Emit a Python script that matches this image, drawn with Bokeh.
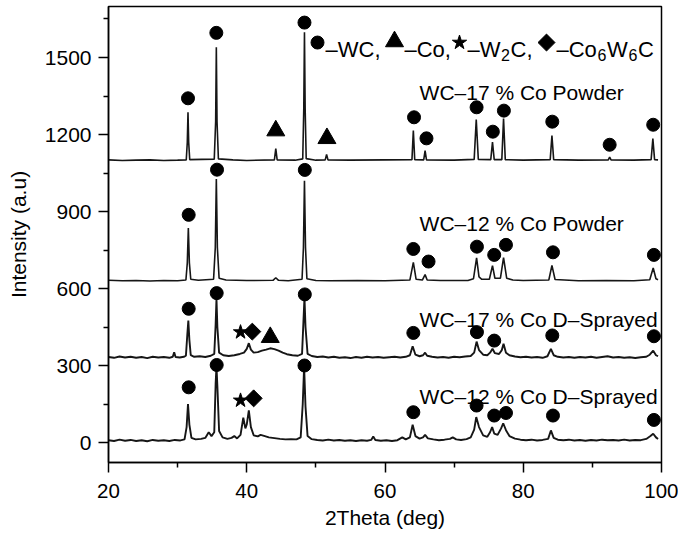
from bokeh.plotting import figure
from bokeh.models import Range1d, FixedTicker
from bokeh.core.properties import value
from bokeh.embed import file_html
from bokeh.resources import INLINE

FONT = "Liberation Sans"

# ---------------- data ----------------
x_ticks = [20, 40, 60, 80, 100]
x_minor = [30, 50, 70, 90]
y_ticks = [0, 300, 600, 900, 1200, 1500]
y_minor = [150, 450, 750, 1050, 1350, 1650]

# WC-17 % Co Powder
a_theta = [20.0, 22.0, 24.0, 26.0, 28.0, 30.0, 31.25, 31.4, 31.5, 31.6, 31.75, 35.3, 35.5, 35.6, 35.7,
           35.9, 38.0, 40.0, 44.0, 44.2, 44.4, 47.0, 48.1, 48.25, 48.35, 48.45, 48.6, 50.0, 51.35, 51.55,
           51.75, 55.0, 60.0, 63.9, 64.1, 64.3, 65.6, 65.8, 66.0, 70.0, 72.9, 73.2, 73.5, 75.3, 75.55,
           75.8, 76.9, 77.15, 77.4, 80.0, 83.9, 84.15, 84.4, 88.0, 92.3, 92.5, 92.7, 96.0, 98.5, 98.75,
           99.0, 99.5]
a_int = [1101, 1099, 1100, 1101, 1099, 1100, 1101, 1170, 1287, 1170, 1102, 1104, 1250, 1540, 1250,
         1105, 1101, 1099, 1101, 1145, 1101, 1100, 1105, 1300, 1598, 1300, 1106, 1100, 1101, 1122,
         1101, 1100, 1101, 1102, 1215, 1102, 1101, 1137, 1101, 1100, 1103, 1258, 1103, 1102, 1170,
         1102, 1102, 1262, 1102, 1100, 1102, 1196, 1102, 1100, 1101, 1112, 1101, 1100, 1102, 1184,
         1102, 1101]

# WC-12 % Co Powder
b_theta = [20.0, 22.0, 24.0, 26.0, 28.0, 30.0, 31.2, 31.4, 31.55, 31.7, 31.9, 33.0, 35.2, 35.45, 35.6,
           35.75, 36.0, 37.0, 40.0, 43.8, 44.2, 44.6, 46.0, 48.0, 48.2, 48.35, 48.5, 48.7, 50.0, 52.0,
           56.0, 60.0, 63.6, 64.1, 64.5, 65.4, 65.8, 66.1, 68.0, 72.0, 72.8, 73.25, 73.6, 74.0, 75.1,
           75.55, 75.9, 76.7, 77.15, 77.6, 78.5, 80.0, 83.7, 84.15, 84.6, 88.0, 92.0, 96.0, 98.3, 98.8,
           99.2, 99.5]
b_int = [632, 630, 631, 629, 631, 630, 633, 700, 836, 700, 636, 632, 636, 760, 1027,
         760, 640, 633, 631, 632, 642, 632, 630, 636, 760, 1020, 760, 638, 631, 630,
         631, 630, 633, 702, 636, 633, 654, 633, 631, 631, 638, 719, 645, 636, 636,
         689, 640, 640, 720, 640, 633, 631, 633, 690, 635, 630, 631, 630, 634, 680,
         638, 634]

# WC-17 % Co D-Sprayed
c_theta = [20.0, 20.8, 21.6, 22.4, 23.2, 24.0, 24.8, 25.6, 26.4, 27.2, 28.0, 28.8, 29.3, 29.5, 29.7,
           30.3, 30.9, 31.2, 31.4, 31.55, 31.7, 31.9, 32.4, 33.2, 34.0, 34.8, 35.3, 35.5, 35.62, 35.75,
           36.0, 36.6, 37.4, 38.2, 39.0, 39.6, 40.0, 40.3, 40.6, 41.0, 41.6, 42.2, 42.8, 43.4, 44.0,
           44.6, 45.2, 45.8, 46.6, 47.4, 48.0, 48.2, 48.35, 48.5, 48.8, 49.4, 50.2, 51.0, 51.8, 52.6,
           53.4, 54.2, 55.0, 55.8, 56.6, 57.4, 58.2, 59.0, 59.8, 60.6, 61.4, 62.2, 63.0, 63.6, 64.0,
           64.4, 65.0, 65.5, 65.8, 66.1, 66.8, 67.6, 68.4, 69.2, 70.0, 70.8, 71.6, 72.4, 72.9, 73.25,
           73.6, 74.2, 74.8, 75.2, 75.55, 75.9, 76.5, 76.9, 77.15, 77.5, 78.0, 78.8, 79.6, 80.4, 81.2,
           82.0, 82.8, 83.5, 84.0, 84.4, 85.0, 85.8, 86.6, 87.4, 88.2, 89.0, 89.8, 90.6, 91.4, 92.2,
           93.0, 93.8, 94.6, 95.4, 96.2, 97.0, 97.8, 98.3, 98.8, 99.2, 99.5]
c_int = [333, 330, 335, 331, 334, 330, 333, 329, 334, 331, 333, 330, 334, 352, 333,
         331, 334, 338, 420, 475, 400, 340, 334, 336, 333, 338, 345, 460, 560, 450,
         350, 340, 337, 340, 345, 350, 365, 387, 362, 350, 352, 358, 362, 367, 364,
         358, 350, 344, 340, 338, 345, 470, 565, 450, 345, 337, 333, 335, 331, 334,
         330, 332, 329, 333, 330, 334, 331, 333, 330, 332, 334, 331, 334, 340, 375,
         342, 336, 340, 350, 338, 334, 331, 333, 330, 334, 332, 335, 337, 350, 393,
         360, 342, 340, 350, 365, 348, 345, 360, 385, 350, 340, 335, 332, 334, 331,
         333, 330, 336, 365, 340, 334, 331, 333, 330, 333, 331, 334, 330, 333, 336,
         331, 333, 330, 332, 329, 332, 334, 342, 358, 340, 336]

# WC-12 % Co D-Sprayed
d_theta = [20.0, 20.8, 21.6, 22.4, 23.2, 24.0, 24.8, 25.6, 26.4, 27.2, 28.0, 28.8, 29.6, 30.4, 31.0,
           31.3, 31.5, 31.7, 32.0, 32.6, 33.4, 34.0, 34.5, 34.9, 35.3, 35.5, 35.62, 35.75, 36.0, 36.5,
           37.2, 37.8, 38.2, 38.6, 39.1, 39.5, 39.8, 40.0, 40.3, 40.6, 41.0, 41.6, 42.0, 42.5, 43.2,
           44.0, 44.8, 45.6, 46.4, 47.2, 47.8, 48.1, 48.3, 48.5, 48.8, 49.4, 50.2, 51.0, 51.8, 52.6,
           53.4, 54.2, 55.0, 55.8, 56.6, 57.4, 58.0, 58.3, 58.6, 59.4, 60.2, 61.0, 61.8, 62.5, 63.0,
           63.6, 64.0, 64.4, 65.0, 65.5, 65.8, 66.2, 67.0, 67.8, 68.6, 69.4, 69.8, 70.3, 71.0, 71.8,
           72.4, 72.9, 73.2, 73.6, 74.2, 74.8, 75.2, 75.5, 75.8, 76.3, 76.8, 77.1, 77.5, 78.0, 78.8,
           79.6, 80.4, 81.2, 82.0, 82.8, 83.6, 84.0, 84.4, 85.0, 85.8, 86.6, 87.4, 88.2, 89.0, 89.8,
           90.6, 91.4, 92.2, 93.0, 93.8, 94.6, 95.4, 96.2, 97.0, 97.8, 98.4, 98.8, 99.2, 99.5]
d_int = [9, 6, 11, 7, 10, 6, 9, 5, 10, 7, 9, 6, 10, 8, 12,
         60, 150, 70, 18, 12, 14, 18, 40, 25, 40, 230, 296, 220, 45, 20,
         14, 18, 25, 16, 30, 97, 55, 70, 125, 60, 28, 24, 30, 26, 20,
         17, 14, 12, 13, 12, 20, 150, 296, 140, 25, 13, 10, 8, 11, 8,
         10, 7, 9, 6, 9, 7, 10, 23, 10, 7, 9, 6, 9, 20, 12,
         20, 69, 25, 15, 20, 30, 16, 12, 9, 11, 14, 20, 12, 10, 13,
         20, 50, 99, 60, 28, 22, 40, 60, 35, 30, 55, 75, 48, 25, 15,
         11, 9, 11, 8, 10, 14, 47, 18, 11, 9, 11, 8, 10, 7, 10,
         8, 11, 9, 10, 8, 11, 8, 10, 9, 14, 25, 34, 20, 14]

# phase markers above the peaks
wc_x = [31.5, 35.6, 48.35, 64.2, 66.0, 73.25, 75.6, 77.2, 84.2, 92.5, 98.8,
        31.6, 35.7, 48.4, 64.1, 66.3, 73.3, 75.8, 77.5, 84.3, 98.9,
        31.6, 35.65, 48.4, 64.1, 73.3, 75.8, 84.2, 98.9,
        31.6, 35.65, 48.35, 64.1, 73.25, 75.8, 77.5, 84.3, 98.9]
wc_y = [1341, 1596, 1636, 1267, 1185, 1306, 1211, 1293, 1250, 1160, 1238,
        887, 1063, 1062, 754, 705, 763, 731, 770, 741, 731,
        521, 582, 577, 427, 430, 397, 417, 414,
        215, 302, 300, 118, 144, 105, 115, 105, 88]
co_x = [44.2, 51.6, 43.4]
co_y = [1215, 1185, 410]
w2c_x = [39.1, 39.1]
w2c_y = [430, 164]
eta_x = [40.8, 41.0]
eta_y = [432, 172]

sample_names = ["WC\u201317 % Co Powder", "WC\u201312 % Co Powder",
                "WC\u201317 % Co D\u2013Sprayed", "WC\u201312 % Co D\u2013Sprayed"]
name_x = [65.0, 65.0, 65.0, 65.0]
name_y = [1364, 855, 478, 181]

# ---------------- layout helpers ----------------
FRAME_L, FRAME_R = 108.0, 661.0          # page pixels of the frame edges
PX_PER_DEG = (FRAME_R - FRAME_L) / 80.0
PX_PER_UNIT = 385.0 / 1500.0


def px_x(px):
    return 20 + (px - FRAME_L) / PX_PER_DEG


def px_dy(dpx):
    return dpx / PX_PER_UNIT


# key row (phase symbols)
KEY_Y = 1531                      # text baseline
KEY_MY = KEY_Y + px_dy(7)         # symbol centres
key_main = ["\u2013WC,", "\u2013Co,", "\u2013W", "C,", "\u2013Co", "W", "C"]
key_main_px = [325, 404, 467, 510, 556, 606.5, 637.5]
key_sub = ["2", "6", "6"]
key_sub_px = [500.5, 597, 628]

# ---------------- figure ----------------
p = figure(width=678, height=536, x_range=Range1d(20, 100), y_range=Range1d(-77.9, 1698.7),
           output_backend="svg", toolbar_location=None,
           min_border_left=108, min_border_right=17, min_border_top=6, min_border_bottom=74)
p.xgrid.visible = False
p.ygrid.visible = False
p.outline_line_color = "black"
p.outline_line_width = 1.5
p.background_fill_color = "white"
p.border_fill_color = "white"

p.xaxis.ticker = FixedTicker(ticks=x_ticks, minor_ticks=x_minor)
p.yaxis.ticker = FixedTicker(ticks=y_ticks, minor_ticks=y_minor)
p.xaxis.axis_label = "2Theta (deg)"
p.yaxis.axis_label = "Intensity (a.u)"
for ax in (p.xaxis[0], p.yaxis[0]):
    ax.axis_line_color = "black"
    ax.axis_line_width = 1.5
    ax.major_tick_line_color = "black"
    ax.major_tick_line_width = 1.5
    ax.minor_tick_line_color = "black"
    ax.minor_tick_line_width = 1.5
    ax.major_tick_out = 10
    ax.major_tick_in = 0
    ax.minor_tick_out = 5
    ax.minor_tick_in = 0
    ax.major_label_text_font = FONT
    ax.major_label_text_font_size = "21px"
    ax.major_label_text_color = "black"
    ax.axis_label_text_font = FONT
    ax.axis_label_text_font_size = "21px"
    ax.axis_label_text_font_style = "normal"
    ax.axis_label_text_color = "black"
p.xaxis.major_label_text_font_size = "20.5px"
p.xaxis.major_label_standoff = 11
p.xaxis.axis_label_standoff = 5
p.yaxis.major_label_standoff = 7
p.yaxis.axis_label_standoff = 12

for tx, ty, lw in ((a_theta, a_int, 1.6), (b_theta, b_int, 1.6), (c_theta, c_int, 1.9), (d_theta, d_int, 1.9)):
    p.line(tx, ty, line_color="#161616", line_width=lw)

p.scatter(wc_x, wc_y, marker="circle", size=13, color="black")
p.scatter(co_x, co_y, marker="triangle", size=18, color="black")
p.scatter(w2c_x, w2c_y, marker="star", size=15, color="black")
p.scatter(eta_x, eta_y, marker="square", angle=0.785398, size=12, color="black")

p.text(name_x, name_y, text=sample_names, text_font=value(FONT), text_font_size="21px",
       text_align="left", text_baseline="alphabetic", text_color="black")

# key row
p.scatter([px_x(317)], [KEY_MY], marker="circle", size=13, color="black")
p.scatter([px_x(394)], [KEY_MY + px_dy(1)], marker="triangle", size=18, color="black")
p.scatter([px_x(459)], [KEY_MY], marker="star", size=15, color="black")
p.scatter([px_x(546)], [KEY_MY], marker="square", angle=0.785398, size=12, color="black")
p.text([px_x(v) for v in key_main_px], [KEY_Y] * len(key_main), text=key_main,
       text_font=value(FONT), text_font_size="22px", text_align="left",
       text_baseline="alphabetic", text_color="black")
p.text([px_x(v) for v in key_sub_px], [KEY_Y - px_dy(5)] * len(key_sub), text=key_sub,
       text_font=value(FONT), text_font_size="16px", text_align="left",
       text_baseline="alphabetic", text_color="black")

open("out.html", "w").write(file_html(p, INLINE))
